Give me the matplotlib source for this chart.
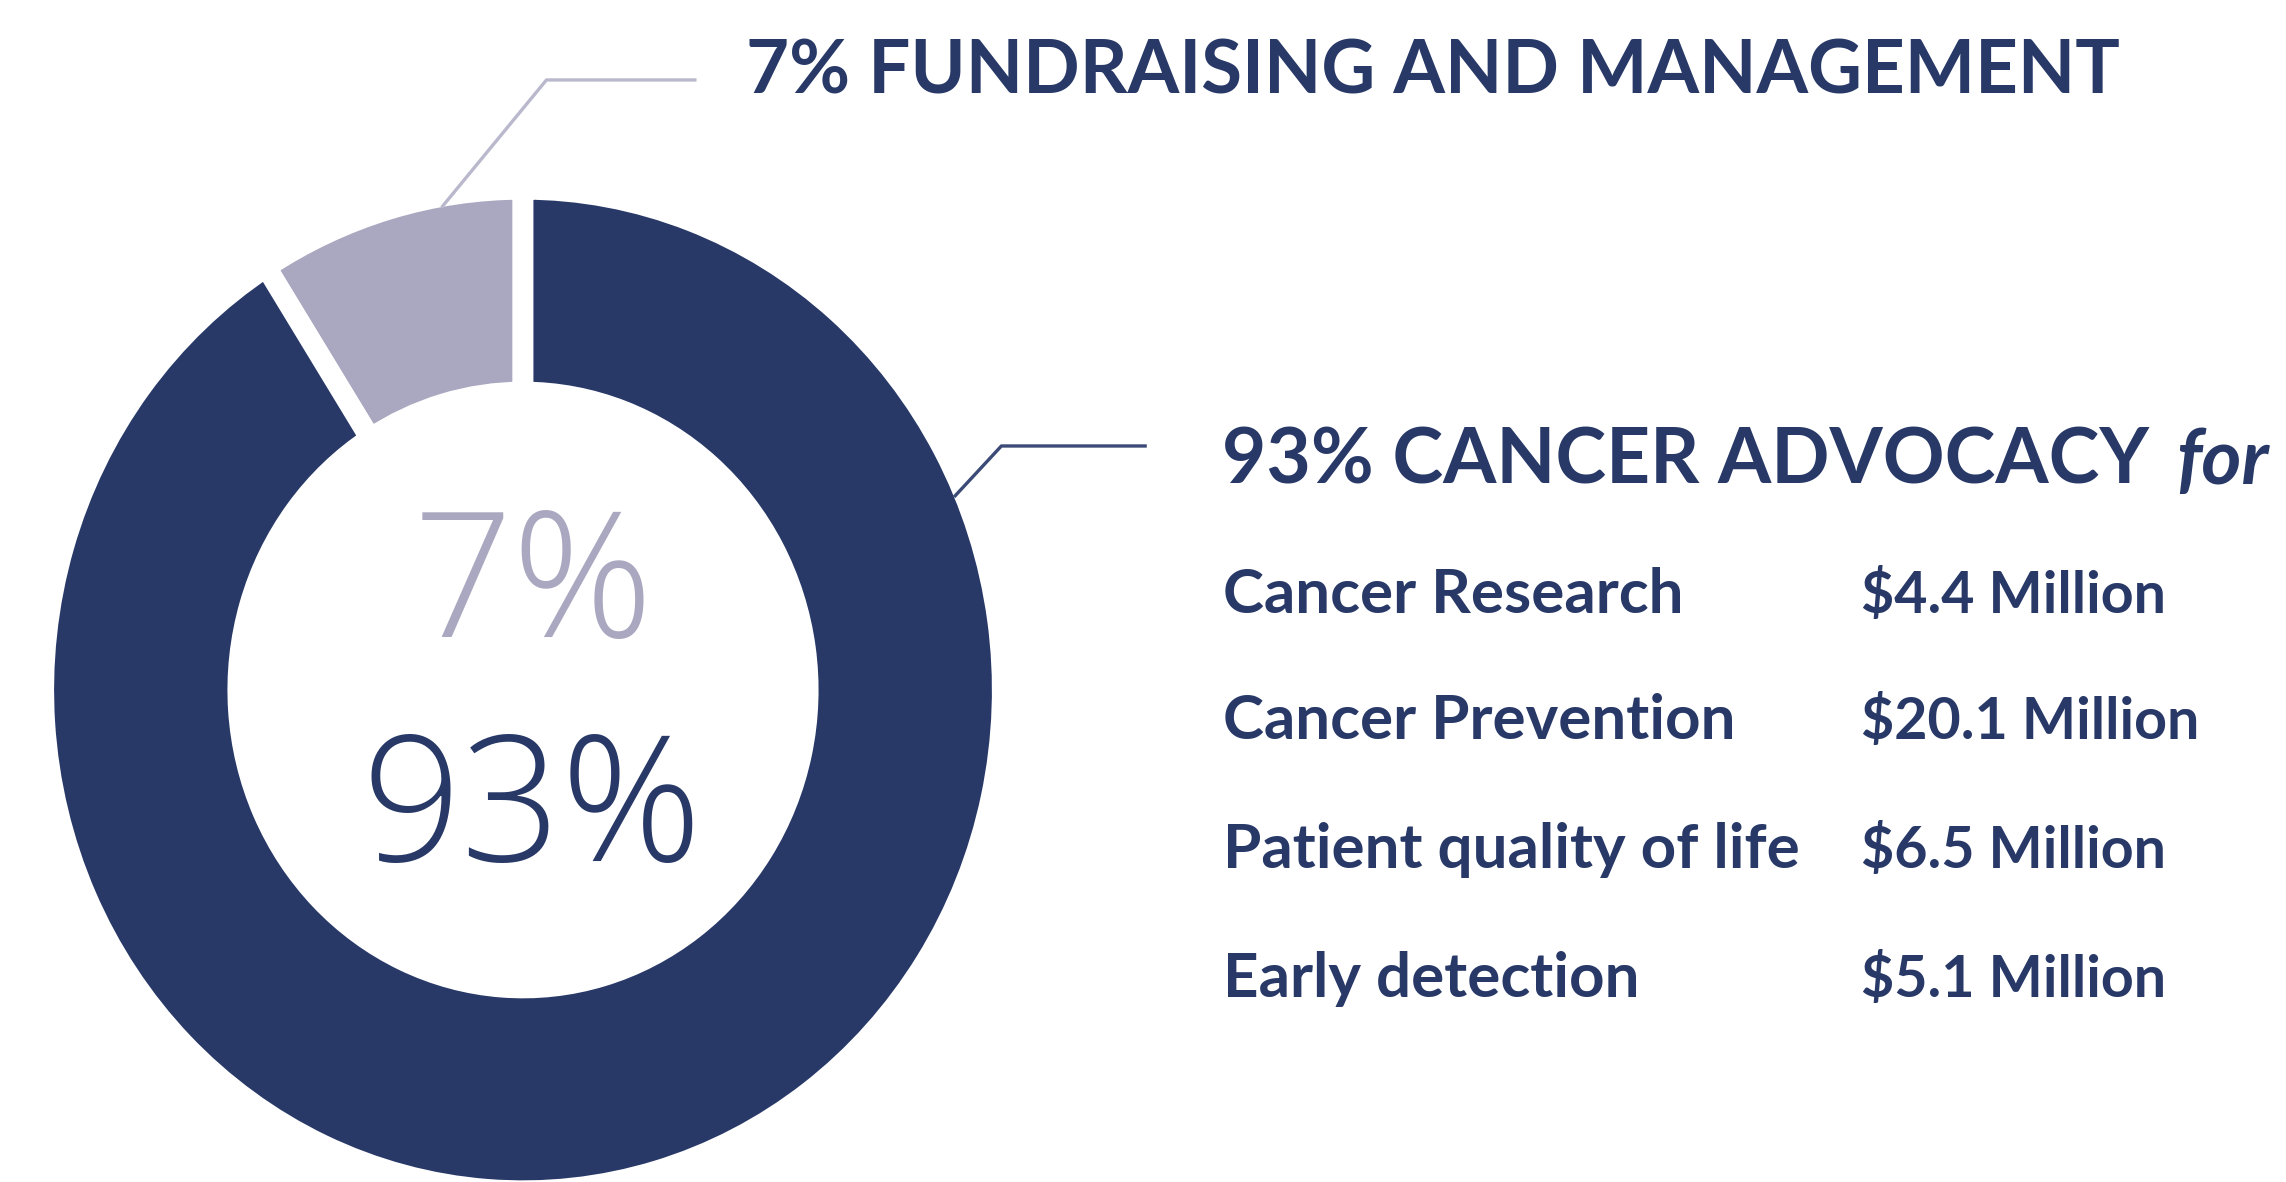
import matplotlib
matplotlib.use("Agg")
from matplotlib import pyplot as plt
import numpy as np

# shares as written and as drawn in the source graphic
pct_labels = ["7%", "93%"]
arc_share = [9, 91]          # the light arc in the original covers ~32 degrees

head_fund = "7% FUNDRAISING AND MANAGEMENT"
head_adv = "93% CANCER ADVOCACY"
head_adv_it = "for"

programs = ["Cancer Research", "Cancer Prevention", "Patient quality of life", "Early detection"]
amounts = ["$4.4 Million", "$20.1 Million", "$6.5 Million", "$5.1 Million"]

navy = "#283968"
lilac = "#AAA8C0"
lilac_line = "#B9B8CC"

W, H = 2286, 1182
fig = plt.figure(figsize=(W / 100, H / 100), dpi=100)
fig.patch.set_facecolor("white")
plt.rcParams["font.family"] = ["Lato", "DejaVu Sans"]
renderer = fig.canvas.get_renderer()


def fx(px):
    return px / W


def fy(py):
    return 1 - py / H


def fit_size(s, target_px, **kw):
    # font size that makes s about target_px wide
    t = fig.text(0, 0, s, fontsize=50, **kw)
    w = t.get_window_extent(renderer=renderer).width
    t.remove()
    return 50 * target_px / w


# donut axes (ring is slightly taller than wide in the original)
cx, cy, rx, ry = 523, 690, 469, 490
L = 1.4
ax = fig.add_axes([fx(cx - L * rx), fy(cy + L * ry), 2 * L * rx / W, 2 * L * ry / H])

gap = 0.022  # half the white gap, in data units
ax.pie(arc_share, radius=1 + gap, startangle=90, counterclock=True,
       colors=[lilac, navy],
       wedgeprops=dict(width=(1 + gap) - (0.63 - gap), edgecolor="white",
                       linewidth=15, joinstyle="round"))
ax.set_aspect("auto")
ax.set_xlim(-L, L)
ax.set_ylim(-L, L)
ax.axis("off")

# leader lines
a1 = np.deg2rad(100)
ax.plot([np.cos(a1), 0.05, 0.37], [np.sin(a1), 1.245, 1.245],
        color=lilac_line, lw=2.4, clip_on=False, solid_capstyle="butt")
a2 = np.deg2rad(23.2)
ax.plot([np.cos(a2), 1.02, 1.33], [np.sin(a2), 0.498, 0.498],
        color="#3B4A76", lw=2.4, clip_on=False, solid_capstyle="butt")

# centre numbers
big = dict(family=["Open Sans", "Lato", "DejaVu Sans"], fontweight=300)
fig.text(fx(533), fy(637), pct_labels[0], color=lilac, fontsize=126,
         ha="center", va="baseline", **big)
fig.text(fx(532), fy(861), pct_labels[1], color=navy, fontsize=126,
         ha="center", va="baseline", **big)

# headings
hs1 = fit_size(head_fund, 1375, fontweight="bold")
fig.text(fx(746), fy(94), head_fund, color=navy, fontsize=hs1,
         fontweight="bold", ha="left", va="baseline")
hs2 = fit_size(head_adv, 927, fontweight="bold")
fig.text(fx(1222), fy(484), head_adv, color=navy, fontsize=hs2,
         fontweight="bold", ha="left", va="baseline")
fig.text(fx(2176), fy(484), head_adv_it, color=navy, fontsize=hs2,
         fontweight="bold", style="italic", ha="left", va="baseline")

# breakdown table
ls = fit_size(programs[1], 514, fontweight="bold")
vs = fit_size(amounts[1], 339, fontweight="bold")
row_base = [613, 739, 868, 997]
for name, amt, yb in zip(programs, amounts, row_base):
    fig.text(fx(1223), fy(yb), name, color=navy, fontsize=ls,
             fontweight="bold", ha="left", va="baseline")
    fig.text(fx(1861), fy(yb), amt, color=navy, fontsize=vs,
             fontweight="bold", ha="left", va="baseline")

fig.savefig("out.png", dpi=100, facecolor="white")
